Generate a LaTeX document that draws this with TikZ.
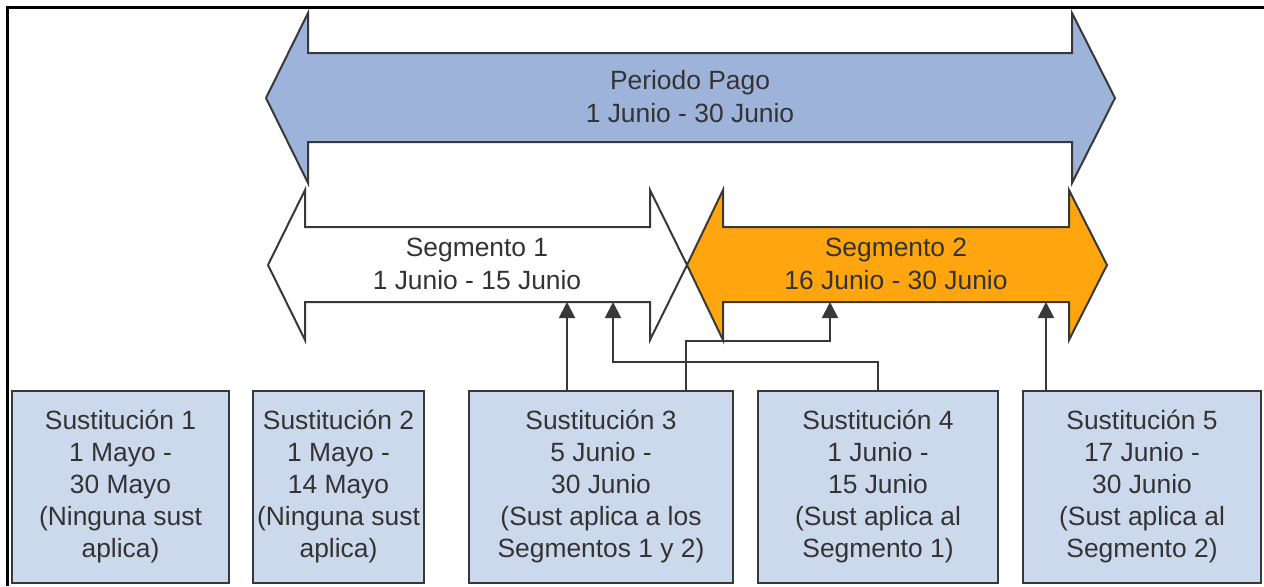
\documentclass[tikz,border=0pt]{standalone}
\usepackage{fontspec}
\setmainfont{Liberation Sans}
\usetikzlibrary{arrows.meta, positioning, calc}
\definecolor{PagoBlue}{HTML}{9EB3DA}
\definecolor{SegOrange}{HTML}{FFA50F}
\definecolor{SustBlue}{HTML}{CCD9EC}
\definecolor{EdgeGray}{HTML}{383838}
\definecolor{TextGray}{HTML}{333333}
\tikzset{
  band/.style={draw=EdgeGray, line width=1pt, line join=miter},
  bandtext/.style={align=center, text=TextGray, inner sep=2pt, font=\fontsize{13.2pt}{16.5pt}\selectfont},
  sustbox/.style={draw=EdgeGray, line width=1pt, fill=SustBlue, align=center, minimum height=96pt, inner sep=2pt, text=TextGray, font=\fontsize{13.2pt}{16pt}\selectfont},
  conn/.style={-{Triangle[length=8pt, width=8pt]}, line width=1pt, draw=EdgeGray}
}

\begin{document}
\begin{tikzpicture}[x=0.5pt, y=-0.5pt]
\useasboundingbox (0,0) rectangle (1264,586);
% frame
\draw[line width=1.5pt] (7.5,586) -- (7.5,7.5) -- (1264,7.5);

% pay period and segments
\draw[band, fill=PagoBlue] (266,98) -- (308,13) -- (308,53) -- (1072,53) -- (1072,13) -- (1115,98)
  -- (1072,183) -- (1072,142) -- (308,142) -- (308,183) -- cycle;
\draw[band, fill=white] (268,265) -- (305,190) -- (305,227) -- (650,227) -- (650,190) -- (687,265)
  -- (650,340) -- (650,302) -- (305,302) -- (305,340) -- cycle;
\draw[band, fill=SegOrange] (687,265) -- (723,190) -- (723,227) -- (1069,227) -- (1069,190) -- (1107,265)
  -- (1069,340) -- (1069,302) -- (723,302) -- (723,340) -- cycle;

\node[bandtext] (pago) at (690,97) {Periodo Pago\\1 Junio - 30 Junio};
\node[bandtext] (seg1) at (477,264) {Segmento 1\\1 Junio - 15 Junio};
\node[bandtext] (seg2) at (896,264) {Segmento 2\\16 Junio - 30 Junio};

% substitutions
\node[sustbox, minimum width=108.5pt] (s1) at (120.5,487) {Sustitución 1\\1 Mayo -\\30 Mayo\\(Ninguna sust\\aplica)};
\node[sustbox, minimum width=85.5pt] (s2) at (338.5,487) {Sustitución 2\\1 Mayo -\\14 Mayo\\(Ninguna sust\\aplica)};
\node[sustbox, minimum width=132pt] (s3) at (601,487) {Sustitución 3\\5 Junio -\\30 Junio\\(Sust aplica a los\\Segmentos 1 y 2)};
\node[sustbox, minimum width=120pt] (s4) at (878,487) {Sustitución 4\\1 Junio -\\15 Junio\\(Sust aplica al\\Segmento 1)};
\node[sustbox, minimum width=119pt] (s5) at (1142,487) {Sustitución 5\\17 Junio -\\30 Junio\\(Sust aplica al\\Segmento 2)};

% connectors
\coordinate (seg1a) at (567,302);
\coordinate (seg1b) at (613,302);
\coordinate (seg2a) at (830,302);
\coordinate (seg2b) at (1046,302);
\draw[conn] (s3.north -| seg1a) -- (seg1a);
\draw[conn] (s4.north) -- ++(0,-28) -| (seg1b);
\draw[conn] ($(s3.north)+(85,0)$) -- ++(0,-49) -| (seg2a);
\draw[conn] (s5.north -| seg2b) -- (seg2b);
\end{tikzpicture}
\end{document}
